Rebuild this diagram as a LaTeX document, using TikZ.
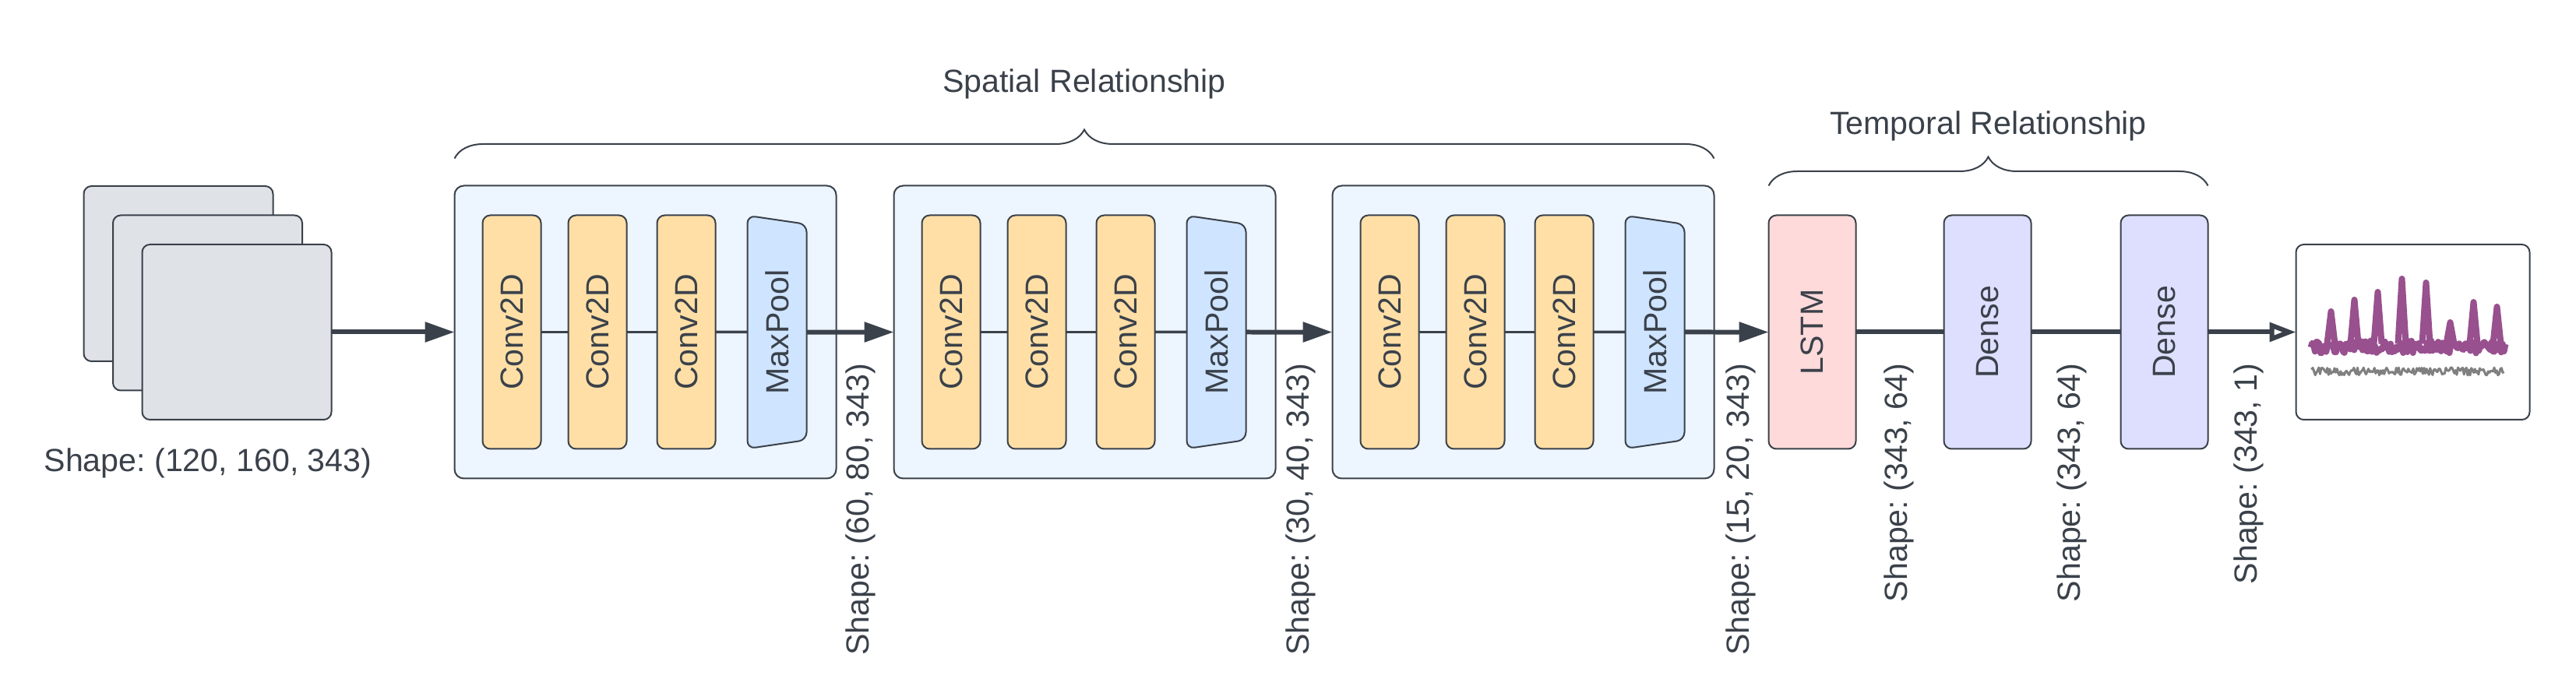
\documentclass[tikz,border=0pt]{standalone}
\usepackage{fontspec}
\setmainfont{Liberation Sans}
\usepackage{graphicx}
\usepackage{xcolor}
\usepackage{tikz}
\usetikzlibrary{positioning, shapes.geometric, arrows.meta, decorations.pathreplacing}
\definecolor{ink}{HTML}{3A414A}
\definecolor{framefill}{HTML}{DFE3E8}
\definecolor{blockfill}{HTML}{EDF5FF}
\definecolor{convfill}{HTML}{FFDFA6}
\definecolor{poolfill}{HTML}{CFE4FF}
\definecolor{lstmfill}{HTML}{FFDADA}
\definecolor{densefill}{HTML}{DEDFFE}
\definecolor{sigpurple}{RGB}{152,80,142}
\definecolor{siggray}{RGB}{128,128,128}
\newcommand{\vtext}[1]{\rotatebox{90}{#1}}
\frenchspacing
\tikzset{
  lbl/.style={text=ink, font=\fontsize{11.7}{14}\selectfont, inner sep=0},
  shapelbl/.style={lbl, rotate=90, anchor=east},
  imgframe/.style={rectangle, draw=ink, fill=framefill, line width=0.02cm, rounded corners=0.1cm, minimum width=2.43cm, minimum height=2.25cm, inner sep=0, outer sep=0},
  block/.style={rectangle, draw=ink, fill=blockfill, line width=0.02cm, rounded corners=0.12cm, minimum width=4.9cm, minimum height=3.76cm, inner sep=0, outer sep=0},
  conv/.style={rectangle, draw=ink, fill=convfill, line width=0.02cm, rounded corners=0.1cm, minimum width=0.75cm, minimum height=3.0cm, inner sep=0, outer sep=0, text=ink, font=\fontsize{11.7}{14}\selectfont},
  pool/.style={trapezium, trapezium angle=78, trapezium stretches=true, shape border rotate=270, draw=ink, fill=poolfill, line width=0.02cm, rounded corners=0.1cm, minimum width=3.0cm, minimum height=0.76cm, inner sep=0, outer sep=0, text=ink, font=\fontsize{11.7}{14}\selectfont},
  lstm/.style={conv, fill=lstmfill, minimum width=1.12cm},
  dense/.style={conv, fill=densefill, minimum width=1.12cm},
  result/.style={rectangle, draw=ink, fill=white, line width=0.02cm, rounded corners=0.1cm, minimum width=3.0cm, minimum height=2.25cm, inner sep=0, outer sep=0},
  arrow/.style={draw=ink, line width=0.06cm, -{Triangle[length=0.38cm, width=0.25cm]}},
  openarrow/.style={draw=ink, line width=0.06cm, -{Triangle[open, length=0.34cm, width=0.24cm]}},
  flow/.style={draw=ink, line width=0.06cm},
  link/.style={draw=ink, line width=0.035cm},
  curly/.style={draw=ink, line width=0.02cm, decorate, decoration={brace, amplitude=0.37cm}},
  sig/.style={draw=sigpurple, line width=0.08cm, line join=round},
  noise/.style={draw=siggray, line width=0.03cm, line join=round},
}

\begin{document}
\begin{tikzpicture}
          \useasboundingbox (0,0) rectangle (33.07,8.80);

          % input frames
          \node[imgframe] (img1) at (2.29,5.285) {};
          \node[imgframe, xshift=0.375cm, yshift=-0.375cm] (img2) at (img1) {};
          \node[imgframe, xshift=0.375cm, yshift=-0.375cm] (img3) at (img2) {};
          \node[lbl, anchor=base] (inshape) at (2.67,2.74) {Shape: (120, 160, 343)};

          % spatial part
          \node[block, right=1.58cm of img3] (block1) {};
          \node[conv, right=0.36cm of block1.west] (conv11) {\vtext{Conv2D}};
          \node[conv, right=0.35cm of conv11] (conv12) {\vtext{Conv2D}};
          \node[conv, right=0.39cm of conv12] (conv13) {\vtext{Conv2D}};
          \node[pool, right=0.41cm of conv13] (pool1) {\vtext{MaxPool}};

          \node[block, right=0.74cm of block1] (block2) {};
          \node[conv, right=0.36cm of block2.west] (conv21) {\vtext{Conv2D}};
          \node[conv, right=0.35cm of conv21] (conv22) {\vtext{Conv2D}};
          \node[conv, right=0.39cm of conv22] (conv23) {\vtext{Conv2D}};
          \node[pool, right=0.41cm of conv23] (pool2) {\vtext{MaxPool}};

          \node[block, right=0.73cm of block2] (block3) {};
          \node[conv, right=0.36cm of block3.west] (conv31) {\vtext{Conv2D}};
          \node[conv, right=0.35cm of conv31] (conv32) {\vtext{Conv2D}};
          \node[conv, right=0.39cm of conv32] (conv33) {\vtext{Conv2D}};
          \node[pool, right=0.41cm of conv33] (pool3) {\vtext{MaxPool}};

          % temporal part
          \node[lstm, right=0.70cm of block3] (lstm) {\vtext{LSTM}};
          \node[dense, right=1.13cm of lstm] (dense1) {\vtext{Dense}};
          \node[dense, right=1.15cm of dense1] (dense2) {\vtext{Dense}};
          \node[result, right=1.13cm of dense2] (out) {};

          % shape labels
          \node[shapelbl] (s1) at (11.05,4.14) {Shape: (60, 80, 343)};
          \node[shapelbl] (s2) at (16.70,4.14) {Shape: (30, 40, 343)};
          \node[shapelbl] (s3) at (22.35,4.14) {Shape: (15, 20, 343)};
          \node[shapelbl] (s4) at (24.38,4.14) {Shape: (343, 64)};
          \node[shapelbl] (s5) at (26.60,4.14) {Shape: (343, 64)};
          \node[shapelbl] (s6) at (28.87,4.14) {Shape: (343, 1)};

          \draw[arrow] (img3) -- (block1);
          \draw[link] (conv11) -- (conv12);
          \draw[link] (conv12) -- (conv13);
          \draw[link] (conv13) -- (pool1);
          \draw[arrow] (pool1) -- (block2);
          \draw[link] (conv21) -- (conv22);
          \draw[link] (conv22) -- (conv23);
          \draw[link] (conv23) -- (pool2);
          \draw[arrow] (pool2) -- (block3);
          \draw[link] (conv31) -- (conv32);
          \draw[link] (conv32) -- (conv33);
          \draw[link] (conv33) -- (pool3);
          \draw[arrow] (pool3) -- (lstm);
          \draw[flow] (lstm) -- (dense1);
          \draw[flow] (dense1) -- (dense2);
          \draw[openarrow] (dense2) -- (out);

          % braces
          \draw[curly] ([yshift=0.35cm]block1.north west) -- ([yshift=0.35cm]block3.north east)
            node[lbl, midway, anchor=base, yshift=0.85cm] (spatial) {Spatial Relationship};
          \draw[curly] ([yshift=0.38cm]lstm.north west) -- ([yshift=0.38cm]dense2.north east)
            node[lbl, midway, anchor=base, yshift=0.655cm] (temporal) {Temporal Relationship};

          % predicted signal
          \begin{scope}[shift={(out.center)}]
            \pgfmathsetseed{12}
            \draw[noise] plot[domain=-1.30:1.17, samples=160] (\x, {-0.505+0.05*rand});
            \draw[sig] plot[domain=-1.31:1.19, samples=140] (\x, {-0.19+0.08*rand});
            \draw[sig] (-1.10,-0.15) -- (-1.05,0.265) -- (-1.00,-0.15)
                       (-0.80,-0.15) -- (-0.75,0.415) -- (-0.70,-0.15)
                       (-0.50,-0.15) -- (-0.45,0.515) -- (-0.40,-0.15)
                       (-0.19,-0.15) -- (-0.14,0.685) -- (-0.09,-0.15)
                       (0.12,-0.15) -- (0.17,0.635) -- (0.22,-0.15)
                       (0.43,-0.15) -- (0.48,0.125) -- (0.53,-0.15)
                       (0.73,-0.15) -- (0.78,0.385) -- (0.83,-0.15)
                       (1.03,-0.15) -- (1.08,0.325) -- (1.13,-0.15);
          \end{scope}
        \end{tikzpicture}
\end{document}
